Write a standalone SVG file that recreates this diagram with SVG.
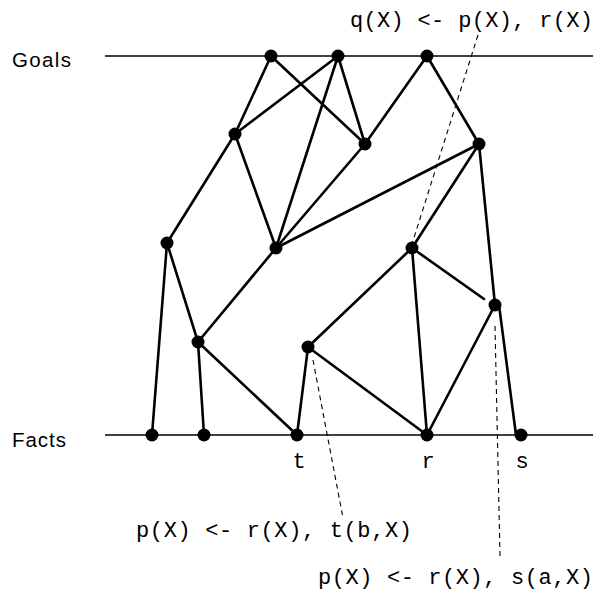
<svg xmlns="http://www.w3.org/2000/svg" width="596" height="591" viewBox="0 0 596 591">
<style>
.axis{stroke:#000;stroke-width:1.5;fill:none}
.e{stroke:#000;stroke-width:2.6;fill:none;stroke-linecap:round}
.d{stroke:#000;stroke-width:1.1;fill:none;stroke-dasharray:5,4}
.n{fill:#000}
.lab{font-family:"Liberation Sans",Arial,sans-serif;font-size:20.5px;fill:#000}
.mono{font-family:"Liberation Mono","Courier New",monospace;font-size:22px;fill:#000}
</style>
<rect width="596" height="591" fill="#fff"/>
<g id="axes">
<line class="axis" x1="105" y1="56" x2="593" y2="56"/>
<line class="axis" x1="105" y1="435" x2="593" y2="435"/>
<text class="lab" x="12" y="67" textLength="59" lengthAdjust="spacing">Goals</text>
<text class="lab" x="12" y="447" textLength="54" lengthAdjust="spacing">Facts</text>
</g>
<g id="connectors">
<line class="e" x1="271" y1="56" x2="235" y2="134"/>
<line class="e" x1="271" y1="56" x2="365" y2="144"/>
<line class="e" x1="338" y1="56" x2="235" y2="134"/>
<line class="e" x1="338" y1="56" x2="276" y2="248"/>
<line class="e" x1="338" y1="56" x2="365" y2="144"/>
<line class="e" x1="427" y1="56" x2="365" y2="144"/>
<line class="e" x1="427" y1="56" x2="479" y2="144"/>
<line class="e" x1="235" y1="134" x2="167" y2="243"/>
<line class="e" x1="235" y1="134" x2="276" y2="248"/>
<line class="e" x1="365" y1="144" x2="276" y2="248"/>
<line class="e" x1="479" y1="144" x2="276" y2="248"/>
<line class="e" x1="479" y1="144" x2="412" y2="248"/>
<line class="e" x1="479" y1="144" x2="495" y2="305"/>
<line class="e" x1="167" y1="243" x2="152" y2="435"/>
<line class="e" x1="167" y1="243" x2="198" y2="342"/>
<line class="e" x1="276" y1="248" x2="198" y2="342"/>
<line class="e" x1="198" y1="342" x2="204" y2="435"/>
<line class="e" x1="198" y1="342" x2="297" y2="435"/>
<line class="e" x1="412" y1="248" x2="308" y2="347"/>
<line class="e" x1="412" y1="248" x2="427" y2="435"/>
<line class="e" x1="412" y1="248" x2="484" y2="299"/>
<line class="e" x1="308" y1="347" x2="297" y2="435"/>
<line class="e" x1="308" y1="347" x2="427" y2="435"/>
<line class="e" x1="495" y1="305" x2="427" y2="435"/>
<line class="e" x1="499" y1="305" x2="516" y2="435"/>
<line class="d" x1="478" y1="35" x2="412" y2="244"/>
<line class="d" x1="313" y1="360" x2="343" y2="518"/>
<line class="d" x1="495" y1="326" x2="500" y2="556"/>
</g>
<g id="goal-nodes">
<circle id="g1" class="n" cx="271" cy="56" r="6.5"/>
<circle id="g2" class="n" cx="338" cy="56" r="6.5"/>
<circle id="g3" class="n" cx="427" cy="56" r="6.5"/>
</g>
<g id="inner-nodes">
<circle id="n1" class="n" cx="235" cy="134" r="6.5"/>
<circle id="n2" class="n" cx="365" cy="144" r="6.5"/>
<circle id="n3" class="n" cx="479" cy="144" r="6.5"/>
<circle id="n4" class="n" cx="167" cy="243" r="6.5"/>
<circle id="n5" class="n" cx="276" cy="248" r="6.5"/>
<circle id="n6" class="n" cx="412" cy="248" r="6.5"/>
<circle id="n7" class="n" cx="495" cy="305" r="6.5"/>
<circle id="n8" class="n" cx="198" cy="342" r="6.5"/>
<circle id="n9" class="n" cx="308" cy="347" r="6.5"/>
</g>
<g id="fact-nodes">
<circle id="f1" class="n" cx="152" cy="435" r="6.5"/>
<circle id="f2" class="n" cx="204" cy="435" r="6.5"/>
<circle id="f3" class="n" cx="297" cy="435" r="6.5"/>
<circle id="f4" class="n" cx="427" cy="435" r="6.5"/>
<circle id="f5" class="n" cx="521" cy="435" r="6.5"/>
</g>
<g id="labels">
<text class="mono" x="299" y="468" text-anchor="middle">t</text>
<text class="mono" x="428" y="468" text-anchor="middle">r</text>
<text class="mono" x="522" y="468" text-anchor="middle">s</text>
<text class="mono" x="350" y="27" textLength="243" lengthAdjust="spacing">q(X) &lt;- p(X), r(X)</text>
<text class="mono" x="136" y="537" textLength="276" lengthAdjust="spacing">p(X) &lt;- r(X), t(b,X)</text>
<text class="mono" x="318" y="584" textLength="275" lengthAdjust="spacing">p(X) &lt;- r(X), s(a,X)</text>
</g>
</svg>
